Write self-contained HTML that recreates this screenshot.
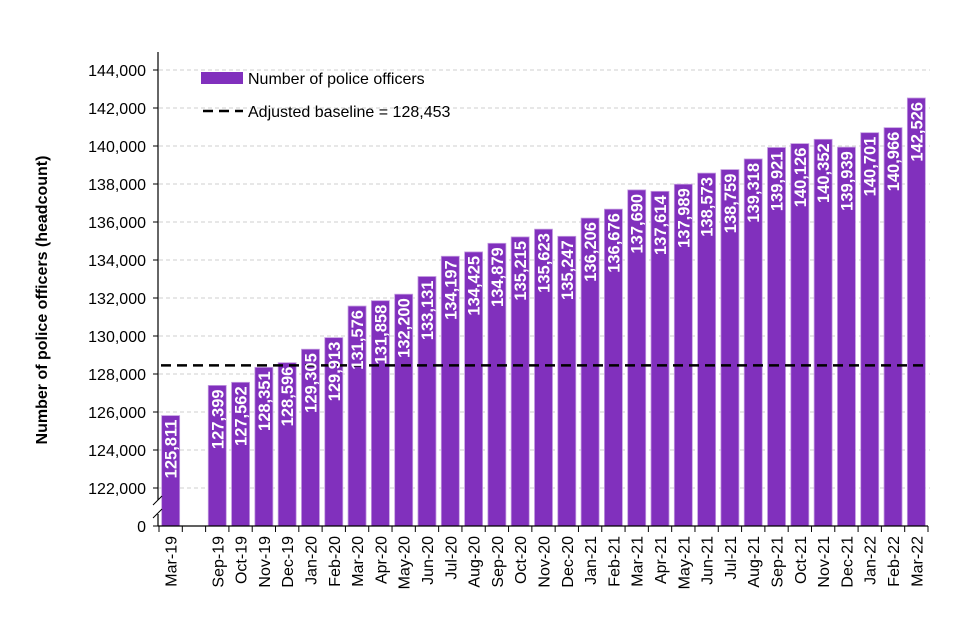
<!DOCTYPE html>
<html><head><meta charset="utf-8"><style>
body{margin:0;background:#fff}
svg{display:block;font-family:"Liberation Sans",Arial,sans-serif}
</style></head><body>
<svg id="chart" width="960" height="640">
<g id="grid"></g><g id="bars"></g><g id="axes"></g>
</svg>
<script>
const categories=["Mar-19","","Sep-19","Oct-19","Nov-19","Dec-19","Jan-20","Feb-20","Mar-20","Apr-20","May-20","Jun-20","Jul-20","Aug-20","Sep-20","Oct-20","Nov-20","Dec-20","Jan-21","Feb-21","Mar-21","Apr-21","May-21","Jun-21","Jul-21","Aug-21","Sep-21","Oct-21","Nov-21","Dec-21","Jan-22","Feb-22","Mar-22"];
const officers=[125811,null,127399,127562,128351,128596,129305,129913,131576,131858,132200,133131,134197,134425,134879,135215,135623,135247,136206,136676,137690,137614,137989,138573,138759,139318,139921,140126,140352,139939,140701,140966,142526];
const baseline=128453;
const yTicks=[122000,124000,126000,128000,130000,132000,134000,136000,138000,140000,142000,144000];
const NS="http://www.w3.org/2000/svg";
const X0=159,X1=928,slot=(X1-X0)/categories.length,BASE=526;
function y(v){return 488-(v-122000)*0.019;}
function xc(i){return X0+slot*(i+0.5);}
function mk(t,a,p,txt){const e=document.createElementNS(NS,t);for(const k in a)e.setAttribute(k,a[k]);if(txt!=null)e.textContent=txt;p.appendChild(e);return e;}
const grid=document.getElementById('grid'),bars=document.getElementById('bars'),axes=document.getElementById('axes');
const fmt=v=>v.toLocaleString('en-US');
yTicks.forEach(v=>{
 const l=mk('line',{x1:X0,x2:X1+2,y1:y(v),y2:y(v),stroke:'#cfcfcf','stroke-dasharray':'4,3'},grid);
 
 
 const t=mk('text',{x:146,y:y(v)+6,'text-anchor':'end','font-size':16,fill:'#000'},axes,fmt(v));
 
 
});
const z=mk('text',{x:146,y:BASE+6,'text-anchor':'end','font-size':16},axes,'0');


const bl=mk('line',{x1:X0+2,x2:X1,y1:y(baseline),y2:y(baseline),stroke:'#000','stroke-width':2.5,'stroke-dasharray':'10,6'},bars);
officers.forEach((v,i)=>{
 if(v==null)return;
 const top=y(v),cx=xc(i);
 const r=mk('rect',{x:cx-9,y:top,width:18,height:BASE-top,fill:'#8130bd',stroke:'#c39be0','stroke-width':0.8},bars);
 
 
});
bars.appendChild(bl);


officers.forEach((v,i)=>{
 if(v==null)return;
 const top=y(v),cx=xc(i);
 const t=mk('text',{transform:`translate(${cx+6},${top+4}) rotate(-90)`,'text-anchor':'end','font-size':16.5,'font-weight':'bold',fill:'#fff'},bars,fmt(v));
 
 
});
// axes
const ya=mk('line',{x1:X0-1,x2:X0-1,y1:52,y2:BASE,stroke:'#000','stroke-width':1.2},axes);


yTicks.forEach(v=>mk('line',{x1:X0-6,x2:X0-1,y1:y(v),y2:y(v),stroke:'#000'},axes));
mk('line',{x1:X0-6,x2:X0-1,y1:BASE,y2:BASE,stroke:'#000'},axes);
mk('rect',{x:X0-3,y:500,width:5,height:14,fill:'#fff'},axes);
const brk=mk('path',{d:`M${X0-6},518 L${X0+3},509 M${X0-6},505 L${X0+3},496`,fill:'none',stroke:'#000','stroke-width':1},axes);


const xa=mk('line',{x1:X0-1,x2:X1,y1:BASE,y2:BASE,stroke:'#000','stroke-width':1.2},axes);


for(let i=0;i<=categories.length;i++)mk('line',{x1:X0+slot*i,x2:X0+slot*i,y1:BASE,y2:BASE+6,stroke:'#000'},axes);
categories.forEach((c,i)=>{
 if(!c)return;
 const t=mk('text',{transform:`translate(${xc(i)+6},${BASE+10}) rotate(-90)`,'text-anchor':'end','font-size':16},axes,c);
 
 
});
const yt=mk('text',{transform:'translate(47,300) rotate(-90)','text-anchor':'middle','font-size':16,'font-weight':'bold'},axes,'Number of police officers (headcount)');


// legend
const lg=mk('g',{},axes);


mk('rect',{x:201,y:72,width:42,height:12,fill:'#8130bd'},lg);
mk('text',{x:248,y:84,'font-size':16},lg,'Number of police officers');
mk('line',{x1:203,x2:243,y1:111,y2:111,stroke:'#000','stroke-width':2.5,'stroke-dasharray':'10,6'},lg);
mk('text',{x:248,y:117,'font-size':16},lg,'Adjusted baseline = 128,453');
</script>
</body></html>
